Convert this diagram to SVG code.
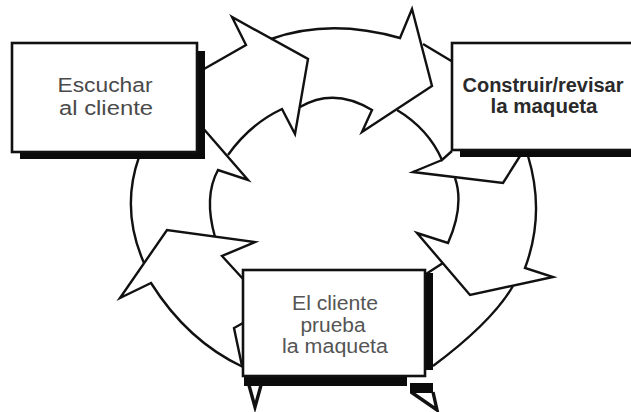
<svg xmlns="http://www.w3.org/2000/svg" width="631" height="412" viewBox="0 0 631 412">
  <style>
    .ln{fill:none;stroke:#111;stroke-width:2.4;stroke-linejoin:miter;stroke-miterlimit:10}
    .tip{fill:#fff;stroke:#111;stroke-width:3.4;stroke-linejoin:miter}
    .box{fill:#fff;stroke:#111;stroke-width:2.6}
    .sh{fill:#0b0b0b}
    .t{font-family:"Liberation Sans",Arial,sans-serif;font-size:20px;text-anchor:middle}
  </style>
  <rect width="631" height="412" fill="#fff"/>

  <!-- curved arrows forming the cycle -->
  <g id="connectors">
    <!-- top-left arrow out of "Escuchar al cliente" -->
    <path class="ln" d="M204,69 L246,45 L232,17 L308,59 L295,134 L282,109 Q250,124 228,155"/>
    <!-- left arrow entering "Escuchar al cliente" -->
    <path class="ln" d="M202,127 L248,180 L218,170 Q203.5,196.5 215,237"/>
    <path class="ln" d="M139,157 Q120.5,209.5 144,263"/>
    <!-- lower-left arrow out of "El cliente prueba la maqueta" -->
    <path class="ln" d="M244,280 L222,256 L255,242 L167,230 L120,298 L151,283 Q187.5,341 243,367"/>
    <path class="ln" d="M243,323 L234,328 L242,366"/>
    <!-- top arrow towards "Construir/revisar la maqueta" -->
    <path class="ln" d="M271,39 Q330,18 400,38 L412,9 L432,86 L362,132 L372,110 Q334,87 300,107"/>
    <path class="ln" d="M423,44 L453,62"/>
    <path class="ln" d="M397,110 Q428.5,129 442,160 L452,151 M442,160 L413,172 L503,183 L520,156"/>
    <!-- right arrow out of "Construir/revisar la maqueta" -->
    <path class="ln" d="M455,178 Q464.5,205.5 448,243 L417,233 L470,295 L553,277 L525,268 Q545.5,213.5 528,156"/>
    <path class="ln" d="M443,263 L426,274"/>
    <!-- lower-right arrow entering "El cliente prueba la maqueta" -->
    <path class="ln" d="M513,286 Q492,322 433,366"/>
    <path class="tip" d="M411,392 L437,410 L433,392"/>
    <path class="tip" d="M247,378 L255,407 L263,378"/>
  </g>

  <g id="node-escuchar">
    <rect class="sh" x="20" y="51" width="185" height="108"/>
    <rect class="box" x="12" y="43" width="185" height="109"/>
    <text class="t" fill="#4a4a4a" x="105" y="92" textLength="95" lengthAdjust="spacingAndGlyphs">Escuchar</text>
    <text class="t" fill="#4a4a4a" x="106" y="115" textLength="94" lengthAdjust="spacingAndGlyphs">al cliente</text>
  </g>

  <g id="node-construir">
    <rect class="sh" x="460" y="50" width="190" height="107"/>
    <rect class="box" x="452" y="43" width="190" height="107"/>
    <text class="t" fill="#2a2a2a" font-weight="bold" x="543" y="92" textLength="161" lengthAdjust="spacingAndGlyphs">Construir/revisar</text>
    <text class="t" fill="#2a2a2a" font-weight="bold" x="544" y="113" textLength="107" lengthAdjust="spacingAndGlyphs">la maqueta</text>
  </g>

  <g id="node-prueba">
    <rect class="sh" x="424" y="273" width="9" height="97"/>
    <rect class="sh" x="244" y="375" width="163" height="11"/>
    <rect class="sh" x="410" y="383" width="23" height="10"/>
    <rect class="box" x="243" y="270" width="182" height="106"/>
    <text class="t" fill="#555" x="335" y="310" textLength="86" lengthAdjust="spacingAndGlyphs">El cliente</text>
    <text class="t" fill="#555" x="333" y="332" textLength="65" lengthAdjust="spacingAndGlyphs">prueba</text>
    <text class="t" fill="#555" x="335" y="353" textLength="106" lengthAdjust="spacingAndGlyphs">la maqueta</text>
  </g>
</svg>
